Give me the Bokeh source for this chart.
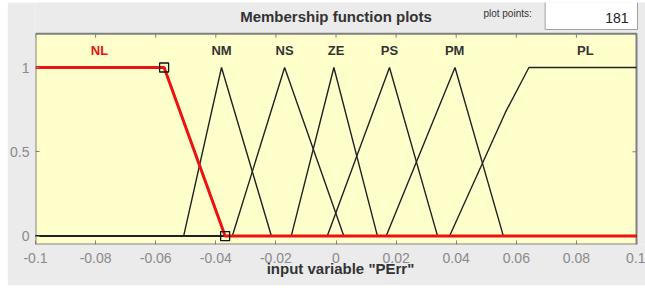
from bokeh.plotting import figure
from bokeh.models import Label, FixedTicker, Range1d, ColumnDataSource
from bokeh.core.properties import value
from bokeh.embed import file_html
from bokeh.resources import INLINE

# ---- data ----
x_ticks = [-0.1, -0.08, -0.06, -0.04, -0.02, 0.0, 0.02, 0.04, 0.06, 0.08, 0.1]
x_tick_labels = ["-0.1", "-0.08", "-0.06", "-0.04", "-0.02", "0", "0.02", "0.04", "0.06", "0.08", "0.1"]
y_ticks = [0.0, 0.5, 1.0]
y_tick_labels = ["0", "0.5", "1"]

# axes limits of the plot box
x_min, x_max = -0.1, 0.1
y_min, y_max = -0.05, 1.2

# selected membership function (NL, trapezoid)
nl_x = [-0.1, -0.0572, -0.0369, 0.1]
nl_y = [1.0, 1.0, 0.0, 0.0]

# other membership functions
nm_x = [-0.1, -0.0507, -0.0381, -0.0215, 0.1]
nm_y = [0.0, 0.0, 1.0, 0.0, 0.0]
ns_x = [-0.1, -0.0345, -0.0171, 0.0026, 0.1]
ns_y = [0.0, 0.0, 1.0, 0.0, 0.0]
ze_x = [-0.1, -0.0149, -0.0007, 0.0138, 0.1]
ze_y = [0.0, 0.0, 1.0, 0.0, 0.0]
ps_x = [-0.1, -0.0029, 0.0178, 0.0338, 0.1]
ps_y = [0.0, 0.0, 1.0, 0.0, 0.0]
pm_x = [-0.1, 0.0167, 0.0396, 0.0557, 0.1]
pm_y = [0.0, 0.0, 1.0, 0.0, 0.0]
pl_x = [-0.1, 0.0378, 0.0564, 0.0642, 0.1]
pl_y = [0.0, 0.0, 0.735, 1.0, 1.0]

mf_names = ["NL", "NM", "NS", "ZE", "PS", "PM", "PL"]
mf_label_x = [-0.0787, -0.0381, -0.0171, 0.0, 0.0178, 0.0395, 0.083]
mf_label_y = [1.1, 1.1, 1.1, 1.1, 1.1, 1.1, 1.1]
mf_label_colors = ["#ee1111", "#333333", "#333333", "#333333", "#333333", "#333333", "#333333"]

plot_points = "181"
title_text = "Membership function plots"
x_label = 'input variable "PErr"'

FONT = "Liberation Sans"
BOX_GREY = "#808080"
TICK_TEXT = "#8a8a8a"
PANEL = "#EBEBEB"

# frame covers the plot box plus the header strip above it (and a few px right)
px_x = 3006.5   # pixels per x unit
px_y = 168.6    # pixels per y unit
frame_top = y_max + 31.3 / px_y
frame_right = x_max + 9 / px_x

p = figure(width=638, height=283, margin=(2, 0, 4, 7),
           output_backend="svg", toolbar_location=None,
           x_range=Range1d(x_min, frame_right), y_range=Range1d(y_min, frame_top),
           min_border_left=28, min_border_right=0, min_border_top=0, min_border_bottom=41,
           background_fill_color=PANEL, border_fill_color=PANEL,
           outline_line_color=None)
p.grid.visible = False

# plot box
p.quad(left=x_min, right=x_max, bottom=y_min, top=y_max,
       fill_color="#FFFFCC", line_color=BOX_GREY, line_width=2)

# bottom axis
xa = p.xaxis[0]
xa.ticker = FixedTicker(ticks=x_ticks)
xa.major_label_overrides = {t: l for t, l in zip(x_ticks, x_tick_labels)}
xa.major_tick_in = 4
xa.major_tick_out = 0
xa.minor_tick_line_color = None
xa.axis_line_color = None
xa.major_tick_line_color = BOX_GREY
xa.major_label_text_color = TICK_TEXT
xa.major_label_text_font = FONT
xa.major_label_text_font_size = "14px"
xa.major_label_standoff = 8
xa.axis_label = x_label
xa.axis_label_text_font = FONT
xa.axis_label_text_font_size = "15px"
xa.axis_label_text_font_style = "bold"
xa.axis_label_text_color = "#333333"
xa.axis_label_standoff = -6

# left axis
ya = p.yaxis[0]
ya.ticker = FixedTicker(ticks=y_ticks)
ya.major_label_overrides = {t: l for t, l in zip(y_ticks, y_tick_labels)}
ya.major_tick_in = 4
ya.major_tick_out = 0
ya.minor_tick_line_color = None
ya.axis_line_color = None
ya.major_tick_line_color = BOX_GREY
ya.major_label_text_color = TICK_TEXT
ya.major_label_text_font = FONT
ya.major_label_text_font_size = "14px"
ya.major_label_standoff = 6

# inward ticks on top and right sides of the plot box
top_len = 4 / px_y
right_len = 4 / px_x
p.segment(x0=x_ticks, x1=x_ticks, y0=[y_max] * len(x_ticks), y1=[y_max - top_len] * len(x_ticks),
          line_color=BOX_GREY, line_width=1)
p.segment(x0=[x_max] * len(y_ticks), x1=[x_max - right_len] * len(y_ticks), y0=y_ticks, y1=y_ticks,
          line_color=BOX_GREY, line_width=1)

# membership functions
for xs, ys in [(nm_x, nm_y), (ns_x, ns_y), (ze_x, ze_y), (ps_x, ps_y), (pm_x, pm_y), (pl_x, pl_y)]:
    p.line(xs, ys, line_color="#222222", line_width=1.4)

p.line(nl_x, nl_y, line_color="#ee1111", line_width=3)
p.scatter([nl_x[1], nl_x[2]], [nl_y[1], nl_y[2]], marker="square", size=9,
          fill_color=None, line_color="#111111", line_width=1.3)

src = ColumnDataSource(dict(x=mf_label_x, y=mf_label_y, t=mf_names, c=mf_label_colors))
p.text(x="x", y="y", text="t", source=src, text_color="c", text_font=value(FONT),
       text_font_size="13px", text_font_style="bold", text_align="center", text_baseline="middle")

# header texts
p.add_layout(Label(x=0.0, y=1.302, text=title_text, text_align="center", text_baseline="middle",
                   text_font=FONT, text_font_size="15px", text_font_style="bold", text_color="#333333"))
p.add_layout(Label(x=x_max + 1 / px_x, y=1.3323, text=plot_points, text_align="right", text_baseline="middle",
                   text_font=FONT, text_font_size="14px", text_color="#222222",
                   background_fill_color="white", border_line_color="#a0a0a0",
                   padding=dict(left=60, right=9, top=20, bottom=6)))
p.add_layout(Label(x=0.0571, y=1.322, text="plot points:", text_align="center", text_baseline="middle",
                   text_font=FONT, text_font_size="10px", text_color="#333333"))

open("out.html", "w").write(file_html(p, INLINE))
